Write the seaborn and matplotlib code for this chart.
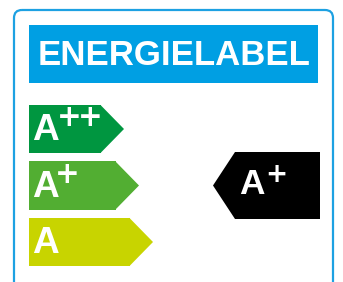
import matplotlib
matplotlib.use("Agg")
import matplotlib.pyplot as plt
from matplotlib.patches import FancyBboxPatch, Polygon, Rectangle
from matplotlib.textpath import TextPath
from matplotlib.font_manager import FontProperties
import seaborn as sns

# label content
title_text = "ENERGIELABEL"
classes = ["A++", "A+", "A"]
bar_lengths = [72, 87, 101]          # length of the flat part of each arrow (px)
class_colors = ["#009640", "#52AE32", "#C8D400"]
rating = "A+"

sns.set_theme(style="white")
plt.rcParams["font.family"] = ["Liberation Sans", "DejaVu Sans"]

W, H = 343, 282
fig = plt.figure(figsize=(W / 100, H / 100), dpi=100)
ax = fig.add_axes([0, 0, 1, 1])
ax.set_xlim(0, W)
ax.set_ylim(H, 0)
ax.axis("off")
ax.set_zorder(2)   # texts sit above the arrow axes


def glyph_text(s, cx, cy, height, family):
    """ puts text s so that its ink is centred on (cx, cy) and is height px tall """
    ext = TextPath((0, 0), s, size=100, prop=FontProperties(family=family, weight="bold")).get_extents()
    fs = 72 * height / ext.height
    base = cy + (ext.y0 + ext.y1) / 2 * fs / 72
    ax.text(cx, base, s, ha="center", va="baseline", color="white", fontsize=fs,
            fontweight="bold", family=family)


# outer frame and title box
ax.add_patch(FancyBboxPatch((14, 10), 319, 300, boxstyle="round,pad=0,rounding_size=8",
                            fill=False, ec="#1DA1E2", lw=1.6))
ax.add_patch(Rectangle((29, 25), 289, 58, color="#009FE3", lw=0))
ax.text(174, 65, title_text, ha="center", va="baseline", color="white",
        fontsize=25, fontweight="bold")

# class arrows (bars + tips)
row_px = 56.5
bax = fig.add_axes([29 / W, 1 - 270.25 / H, (W - 29) / W, 3 * row_px / H])
bax.set_zorder(1)
sns.barplot(x=bar_lengths, y=classes, hue=classes, palette=class_colors, orient="h",
            width=0.85, saturation=1, legend=False, linewidth=0, ax=bax)
bax.set_xlim(0, W - 29)
bax.set_ylim(2.5, -0.5)
bax.axis("off")
bax.patch.set_alpha(0)

tip = 23
row_y = []
for bar in bax.patches[:len(classes)]:
    x0 = bar.get_x() + bar.get_width()
    y0, h = bar.get_y(), bar.get_height()
    bax.add_patch(Polygon([(x0 - 0.5, y0), (x0 + tip, y0 + h / 2), (x0 - 0.5, y0 + h)],
                          closed=True, fc=bar.get_facecolor(), lw=0))
    disp = bax.transData.transform((0, y0 + h / 2))
    row_y.append(ax.transData.inverted().transform(disp)[1])

# letters in Liberation Sans, the heavier pluses in DejaVu Sans
for cls, cy in zip(classes, row_y):
    glyph_text(cls[0], 45.2, cy - 1.5, 25.5, "Liberation Sans")
    for k, p in enumerate(cls[1:]):
        plus_x = 66.8 if len(cls) == 2 else 69.7 + 20.3 * k
        glyph_text(p, plus_x, cy - 12, 18.5, "DejaVu Sans")

# rating pointer
r = classes.index(rating)
hh = 33.5 / row_px
bax.add_patch(Polygon([(184, r), (206, r - hh), (291, r - hh), (291, r + hh), (206, r + hh)],
                      closed=True, fc="black", lw=0))
glyph_text(rating[0], 251.8, row_y[r] - 3.7, 24.3, "Liberation Sans")
glyph_text(rating[1:], 276.7, row_y[r] - 11.5, 16.6, "DejaVu Sans")

fig.savefig("out.png", dpi=100)
